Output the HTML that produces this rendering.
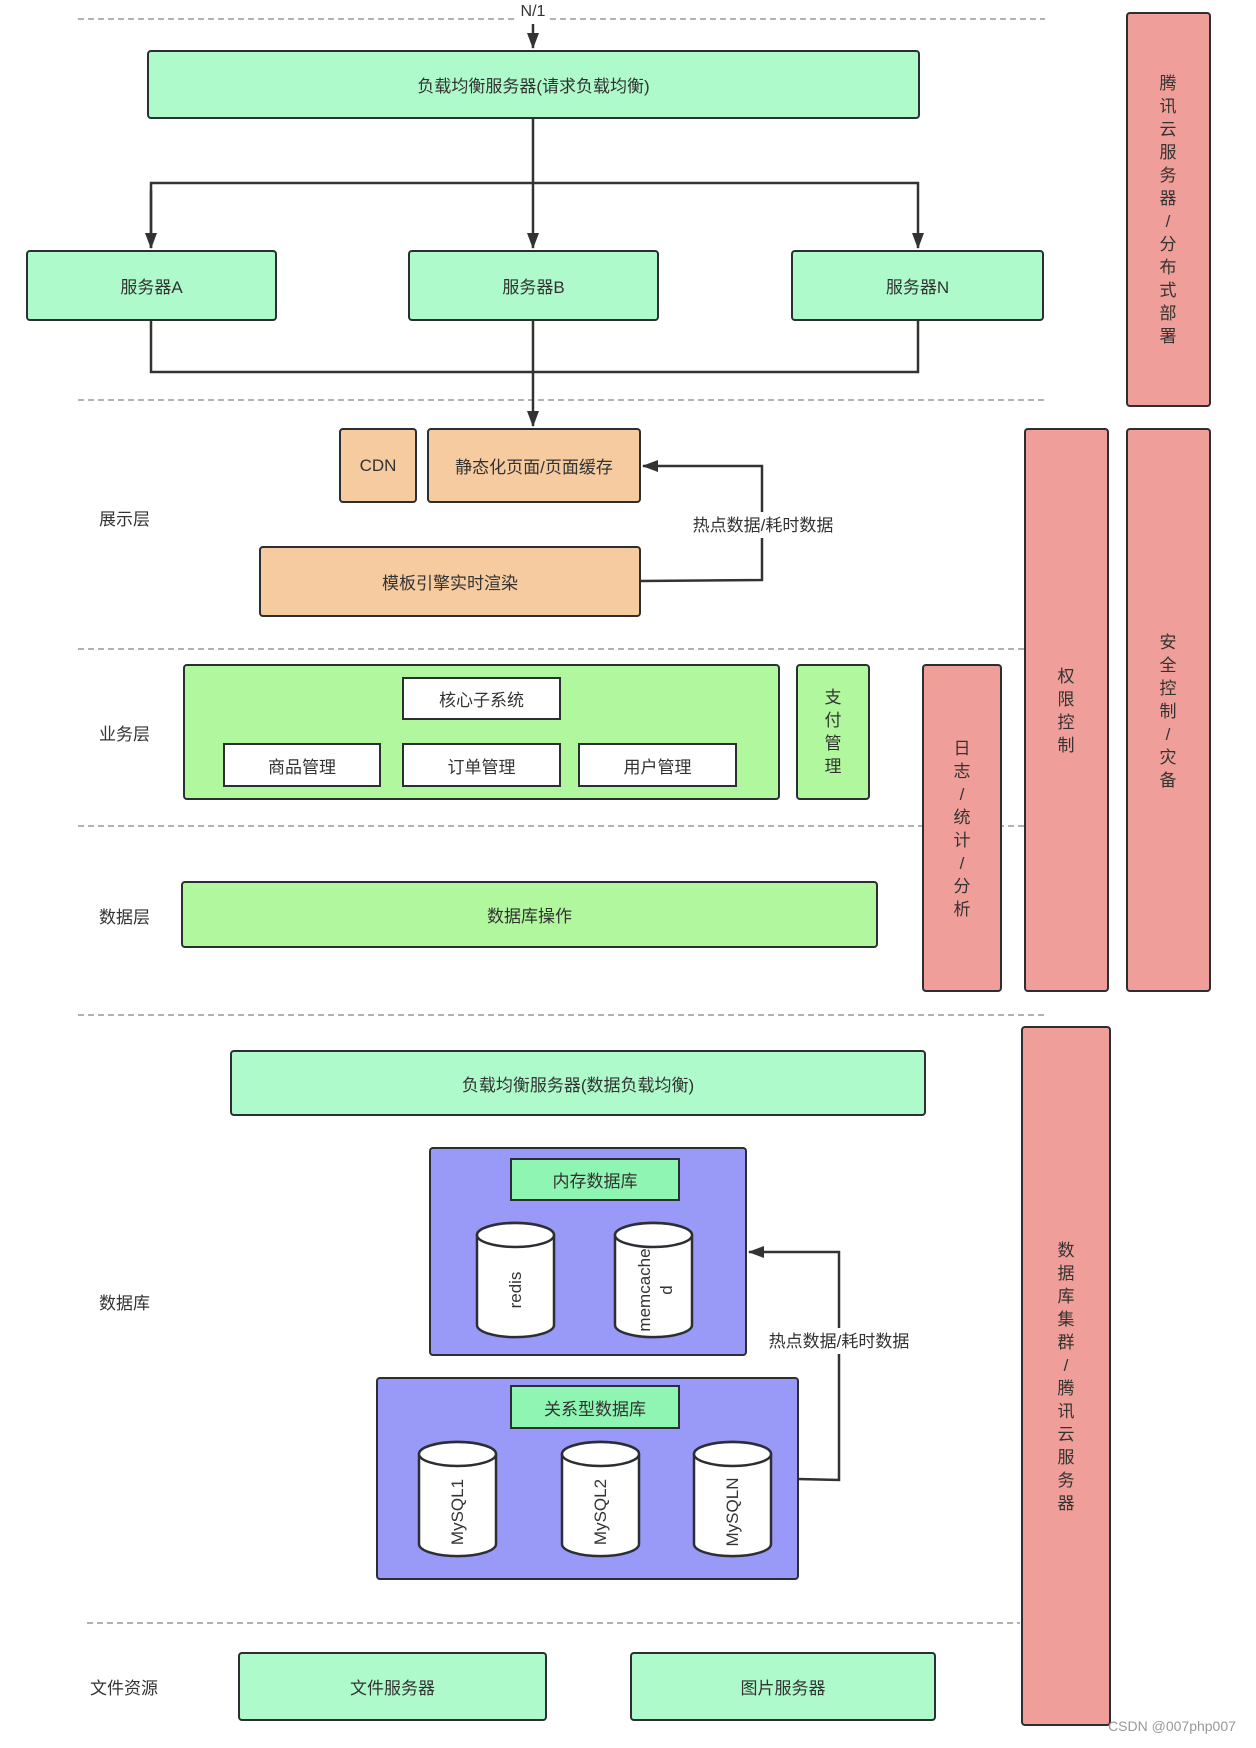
<!DOCTYPE html>
<html><head><meta charset="utf-8"><style>
body{margin:0;width:1256px;height:1748px;position:relative;background:#fff;font-family:"Liberation Sans","Noto Sans CJK SC",sans-serif;color:#333;font-size:17px;overflow:hidden}
.b{position:absolute;box-sizing:border-box;border:2.5px solid #2b2f33;border-radius:4px;display:flex;align-items:center;justify-content:center;text-align:center}
.g{background:#aefacb}.o{background:#f6cba0}.l{background:#b0f79e}.r{background:#f09e9a}.u{background:#9999f8}.t{background:#8ff5b3;border-radius:0}.w{background:#fff;border-radius:0}
.v{position:absolute;width:20px;line-height:23px;text-align:center;font-size:17px}
.lb{position:absolute;font-size:17px}
</style></head><body>
<svg width="1256" height="1748" style="position:absolute;left:0;top:0">
<defs><marker id="a" markerWidth="12" markerHeight="16" refX="6" refY="15" orient="0" markerUnits="userSpaceOnUse"><path d="M0,0 L6,16 L12,0 z" fill="#333"/></marker>
<marker id="a2" markerWidth="16" markerHeight="12" refX="15" refY="6" orient="auto" markerUnits="userSpaceOnUse"><path d="M0,0 L16,6 L0,12 z" fill="#333"/></marker></defs>
<g stroke="#999" stroke-width="1.5" stroke-dasharray="6,4" fill="none">
<line x1="78" y1="19" x2="518" y2="19"/><line x1="550" y1="19" x2="1045" y2="19"/>
<line x1="78" y1="400" x2="1045" y2="400"/>
<line x1="78" y1="649" x2="1024" y2="649"/>
<line x1="78" y1="826" x2="1024" y2="826"/>
<line x1="78" y1="1015" x2="1045" y2="1015"/>
<line x1="87" y1="1623" x2="1020" y2="1623"/>
</g>
<g stroke="#333" stroke-width="2.5" fill="none">
<line x1="533" y1="24" x2="533" y2="48" marker-end="url(#a)"/>
<line x1="533" y1="118" x2="533" y2="248" marker-end="url(#a)"/>
<polyline points="151,248 151,183 918,183 918,248" marker-end="url(#a)"/>
<line x1="151" y1="190" x2="151" y2="248" marker-end="url(#a)"/>
<polyline points="151,320 151,372 918,372 918,320"/>
<line x1="533" y1="320" x2="533" y2="426" marker-end="url(#a)"/>
<polyline points="641,581 762,580 762,466 643,466" marker-end="url(#a2)"/>
<polyline points="798,1479 839,1480 839,1252 749,1252" marker-end="url(#a2)"/>
</g>
<rect x="688" y="512" width="150" height="26" fill="#fff"/>
<text x="763" y="531" text-anchor="middle" font-size="17" fill="#333" font-family="Liberation Sans, Noto Sans CJK SC, sans-serif">热点数据/耗时数据</text>
<rect x="763" y="1328" width="152" height="26" fill="#fff"/>
<text x="839" y="1347" text-anchor="middle" font-size="17" fill="#333" font-family="Liberation Sans, Noto Sans CJK SC, sans-serif">热点数据/耗时数据</text>
<text x="533" y="16" text-anchor="middle" font-size="16" fill="#333" font-family="Liberation Sans, sans-serif">N/1</text>
</svg>
<div class="b g" style="left:147px;top:50px;width:773px;height:69px">负载均衡服务器(请求负载均衡)</div>
<div class="b g" style="left:26px;top:250px;width:251px;height:71px">服务器A</div>
<div class="b g" style="left:408px;top:250px;width:251px;height:71px">服务器B</div>
<div class="b g" style="left:791px;top:250px;width:253px;height:71px">服务器N</div>
<div class="b r" style="left:1126px;top:12px;width:85px;height:395px"></div>
<div class="v" style="left:1158px;top:72px">腾<br>讯<br>云<br>服<br>务<br>器<br>/<br>分<br>布<br>式<br>部<br>署</div>
<div class="b o" style="left:339px;top:428px;width:78px;height:75px">CDN</div>
<div class="b o" style="left:427px;top:428px;width:214px;height:75px">静态化页面/页面缓存</div>
<div class="b o" style="left:259px;top:546px;width:382px;height:71px">模板引擎实时渲染</div>
<div class="lb" style="left:99px;top:505px">展示层</div>
<div class="lb" style="left:99px;top:720px">业务层</div>
<div class="lb" style="left:99px;top:903px">数据层</div>
<div class="lb" style="left:99px;top:1289px">数据库</div>
<div class="lb" style="left:90px;top:1674px">文件资源</div>
<div class="b l" style="left:183px;top:664px;width:597px;height:136px"></div>
<div class="b w" style="left:402px;top:677px;width:159px;height:43px">核心子系统</div>
<div class="b w" style="left:223px;top:743px;width:158px;height:44px">商品管理</div>
<div class="b w" style="left:402px;top:743px;width:159px;height:44px">订单管理</div>
<div class="b w" style="left:578px;top:743px;width:159px;height:44px">用户管理</div>
<div class="b l" style="left:796px;top:664px;width:74px;height:136px"></div>
<div class="v" style="left:823px;top:686px">支<br>付<br>管<br>理</div>
<div class="b l" style="left:181px;top:881px;width:697px;height:67px">数据库操作</div>
<div class="b r" style="left:922px;top:664px;width:80px;height:328px"></div>
<div class="v" style="left:952px;top:737px">日<br>志<br>/<br>统<br>计<br>/<br>分<br>析</div>
<div class="b r" style="left:1024px;top:428px;width:85px;height:564px"></div>
<div class="v" style="left:1056px;top:665px">权<br>限<br>控<br>制</div>
<div class="b r" style="left:1126px;top:428px;width:85px;height:564px"></div>
<div class="v" style="left:1158px;top:631px">安<br>全<br>控<br>制<br>/<br>灾<br>备</div>
<div class="b r" style="left:1021px;top:1026px;width:90px;height:700px"></div>
<div class="v" style="left:1056px;top:1239px">数<br>据<br>库<br>集<br>群<br>/<br>腾<br>讯<br>云<br>服<br>务<br>器</div>
<div class="b g" style="left:230px;top:1050px;width:696px;height:66px">负载均衡服务器(数据负载均衡)</div>
<div class="b u" style="left:429px;top:1147px;width:318px;height:209px"></div>
<div class="b t" style="left:510px;top:1158px;width:170px;height:43px">内存数据库</div>
<div class="b u" style="left:376px;top:1377px;width:423px;height:203px"></div>
<div class="b t" style="left:510px;top:1385px;width:170px;height:44px">关系型数据库</div>
<svg width="1256" height="1748" style="position:absolute;left:0;top:0" font-family="Liberation Sans, sans-serif" font-size="17" fill="#333">
<g stroke="#2b2f33" stroke-width="2.5" fill="#fff">
<path d="M477,1235 v90 a38,12 0 0 0 77,0 v-90 a38,12 0 0 0 -77,0 z"/><ellipse cx="515.5" cy="1235" rx="38.5" ry="12"/>
<path d="M615,1235 v90 a38,12 0 0 0 77,0 v-90 a38,12 0 0 0 -77,0 z"/><ellipse cx="653.5" cy="1235" rx="38.5" ry="12"/>
<path d="M419,1454 v90 a38,12 0 0 0 77,0 v-90 a38,12 0 0 0 -77,0 z"/><ellipse cx="457.5" cy="1454" rx="38.5" ry="12"/>
<path d="M562,1454 v90 a38,12 0 0 0 77,0 v-90 a38,12 0 0 0 -77,0 z"/><ellipse cx="600.5" cy="1454" rx="38.5" ry="12"/>
<path d="M694,1454 v90 a38,12 0 0 0 77,0 v-90 a38,12 0 0 0 -77,0 z"/><ellipse cx="732.5" cy="1454" rx="38.5" ry="12"/>
</g>
<text transform="translate(521,1290) rotate(-90)" text-anchor="middle">redis</text>
<text transform="translate(650,1290) rotate(-90)" text-anchor="middle">memcache</text>
<text transform="translate(672,1290) rotate(-90)" text-anchor="middle">d</text>
<text transform="translate(463,1512) rotate(-90)" text-anchor="middle">MySQL1</text>
<text transform="translate(606,1512) rotate(-90)" text-anchor="middle">MySQL2</text>
<text transform="translate(738,1512) rotate(-90)" text-anchor="middle">MySQLN</text>
<text x="1172" y="1731" text-anchor="middle" font-size="14" fill="#999">CSDN @007php007</text>
</svg>
<div class="b g" style="left:238px;top:1652px;width:309px;height:69px">文件服务器</div>
<div class="b g" style="left:630px;top:1652px;width:306px;height:69px">图片服务器</div>
</body></html>
